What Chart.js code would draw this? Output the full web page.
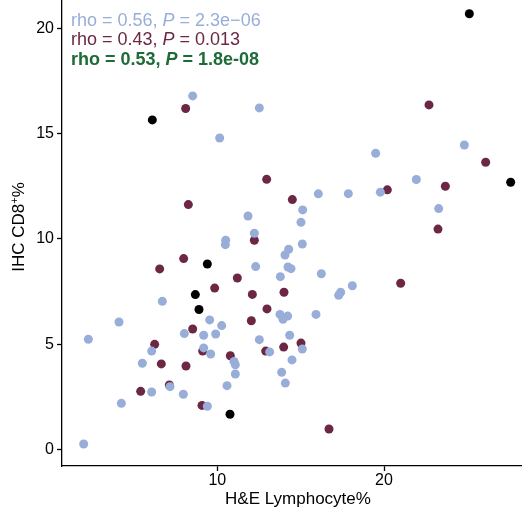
<!DOCTYPE html>
<html>
<head>
<meta charset="utf-8">
<script src="https://cdn.jsdelivr.net/npm/chart.js@4/dist/chart.umd.min.js"></script>
<style>
  html, body { margin: 0; padding: 0; background: #fff; }
  #cd8Chart { display: block; }
</style>
</head>
<body>
<canvas id="cd8Chart" width="522" height="514"></canvas>
<script>
// ------------------------------
//  Data: H&E lymphocyte % vs IHC CD8+ %
// ------------------------------
const blueX = [8.52, 12.52, 10.14, 19.5, 24.82, 21.94, 16.06, 17.86, 19.78, 23.28,
  15.12, 15.02, 11.84, 12.22, 10.5, 10.48, 15.1, 14.28, 14.06, 14.24,
  14.42, 12.3, 16.24, 13.78, 18.1, 17.4, 17.28, 6.7, 15.92, 13.76,
  14.22, 13.94, 9.54, 10.26, 4.1, 8.02, 9.18, 9.9, 14.34, 12.52,
  2.26, 9.18, 13.14, 15.1, 6.06, 9.6, 14.48, 5.5, 11.0, 11.08,
  11.08, 13.86, 14.08, 10.58, 7.16, 6.06, 7.96, 4.24, 9.4, 1.98];
const blueY = [16.79, 16.22, 14.79, 14.07, 14.46, 12.82, 12.14, 12.15, 12.22, 11.44,
  11.38, 10.79, 11.09, 10.27, 9.94, 9.73, 9.76, 9.51, 9.24, 8.67,
  8.59, 8.69, 8.35, 8.21, 7.78, 7.47, 7.33, 7.04, 6.42, 6.42,
  6.34, 6.19, 6.16, 5.89, 6.06, 5.51, 5.43, 5.49, 5.43, 5.22,
  5.24, 4.83, 4.64, 4.78, 4.68, 4.54, 4.26, 4.1, 4.19, 4.03,
  3.59, 3.67, 3.16, 3.04, 2.99, 2.74, 2.63, 2.2, 2.06, 0.27];

const maroonX = [8.1, 22.7, 26.1, 12.96, 8.26, 14.5, 20.2, 23.68, 23.24, 12.22,
  7.98, 6.54, 11.2, 9.84, 12.1, 14.0, 21.0, 12.98, 12.04, 8.52,
  6.24, 15.02, 9.12, 12.9, 13.98, 10.78, 6.64, 8.12, 7.12, 5.4,
  9.08, 16.7];
const maroonY = [16.19, 16.36, 13.64, 12.83, 11.63, 11.87, 12.33, 12.5, 10.47, 9.94,
  9.07, 8.58, 8.15, 7.67, 7.37, 7.47, 7.9, 6.68, 6.12, 5.73,
  5.0, 5.06, 4.68, 4.68, 4.87, 4.46, 4.07, 3.97, 3.07, 2.77,
  2.1, 0.98];

const blackX = [25.12, 6.1, 27.6, 9.4, 8.68, 8.9, 10.76];
const blackY = [20.69, 15.65, 12.69, 8.81, 7.36, 6.65, 1.68];

const X_TICKS = [10, 20];
const Y_TICKS = [0, 5, 10, 15, 20];

// correlation annotations (blue group, maroon group, all samples)
const STAT_RHO = ["0.56", "0.43", "0.53"];
const STAT_P = ["2.3e\u221206", "0.013", "1.8e-08"];
const STAT_COLORS = ["#98AED8", "#6B2743", "#1D6B36"];
const STAT_BOLD = [false, false, true];

const FONT = "'Liberation Sans', Arial, Helvetica, sans-serif";

function toPoints(xs, ys) {
  return xs.map((x, i) => ({ x: x, y: ys[i] }));
}

// ------------------------------
//  Text drawn on top: stats + axis titles
// ------------------------------
const textLayer = {
  id: "textLayer",
  afterDraw(chart) {
    const c = chart.ctx;
    c.save();
    c.textBaseline = "alphabetic";
    c.textAlign = "left";

    // rho / P lines in the upper-left corner
    STAT_RHO.forEach((rho, i) => {
      const w = STAT_BOLD[i] ? "bold " : "";
      const size = 18;
      let x = 71;
      const y = 25.5 + i * 19.5;
      c.fillStyle = STAT_COLORS[i];
      const parts = [
        { t: "rho = " + rho + ", ", f: w + size + "px " + FONT },
        { t: "P", f: "italic " + w + size + "px " + FONT },
        { t: " = " + STAT_P[i], f: w + size + "px " + FONT }
      ];
      parts.forEach(p => {
        c.font = p.f;
        c.fillText(p.t, x, y);
        x += c.measureText(p.t).width;
      });
    });

    // x axis title
    c.fillStyle = "#000";
    c.font = "17px " + FONT;
    c.textAlign = "center";
    c.fillText("H&E Lymphocyte%", 298, 504);

    // y axis title with superscript plus
    c.translate(24, 227);
    c.rotate(-Math.PI / 2);
    c.textAlign = "left";
    const base = "17px " + FONT;
    const small = "11px " + FONT;
    c.font = base;
    const w1 = c.measureText("IHC CD8").width;
    c.font = small;
    const w2 = c.measureText("+").width;
    c.font = base;
    const w3 = c.measureText("%").width;
    let x0 = -(w1 + w2 + w3) / 2;
    c.font = base;
    c.fillText("IHC CD8", x0, 0);
    x0 += w1;
    c.font = small;
    c.fillText("+", x0, -6);
    x0 += w2;
    c.font = base;
    c.fillText("%", x0, 0);
    c.restore();
  }
};

// no extra room around the plot: the panel runs to the canvas edges
function fixBox(s, size) {
  if (s.isHorizontal()) s.height = size; else s.width = size;
  s.paddingTop = 0;
  s.paddingBottom = 0;
  s.paddingLeft = 0;
  s.paddingRight = 0;
}

// ------------------------------
//  Chart
// ------------------------------
const axisCommon = {
  type: "linear",
  border: { display: true, color: "#000", width: 1.3 },
  grid: { drawOnChartArea: false, drawTicks: true, tickLength: 5, tickColor: "#000", tickWidth: 1.3 },
  title: { display: false }
};

const ctx = document.getElementById("cd8Chart").getContext("2d");
const cd8Chart = new Chart(ctx, {
  type: "scatter",
  data: {
    datasets: [
      { label: "black", data: toPoints(blackX, blackY), backgroundColor: "#000", order: 0 },
      { label: "blue", data: toPoints(blueX, blueY), backgroundColor: "#98AED8", order: 1 },
      { label: "maroon", data: toPoints(maroonX, maroonY), backgroundColor: "#6B2743", order: 2 }
    ]
  },
  options: {
    responsive: false,
    animation: false,
    devicePixelRatio: 1,
    layout: { padding: 0, autoPadding: false },
    elements: { point: { radius: 4.5, hoverRadius: 4.5, borderWidth: 0 } },
    plugins: { legend: { display: false }, tooltip: { enabled: false } },
    scales: {
      x: {
        ...axisCommon,
        position: "bottom",
        min: 0.68,
        max: 28.28,
        afterBuildTicks: s => { s.ticks = X_TICKS.map(v => ({ value: v })); },
        afterFit: s => fixBox(s, 48),
        ticks: { color: "#000", font: { family: FONT, size: 16 }, padding: 0, maxRotation: 0 }
      },
      y: {
        ...axisCommon,
        position: "left",
        min: -0.774,
        max: 21.34,
        afterBuildTicks: s => { s.ticks = Y_TICKS.map(v => ({ value: v })); },
        afterFit: s => fixBox(s, 62),
        ticks: { color: "#000", font: { family: FONT, size: 16 }, padding: 3 }
      }
    }
  },
  plugins: [textLayer]
});
</script>
</body>
</html>
